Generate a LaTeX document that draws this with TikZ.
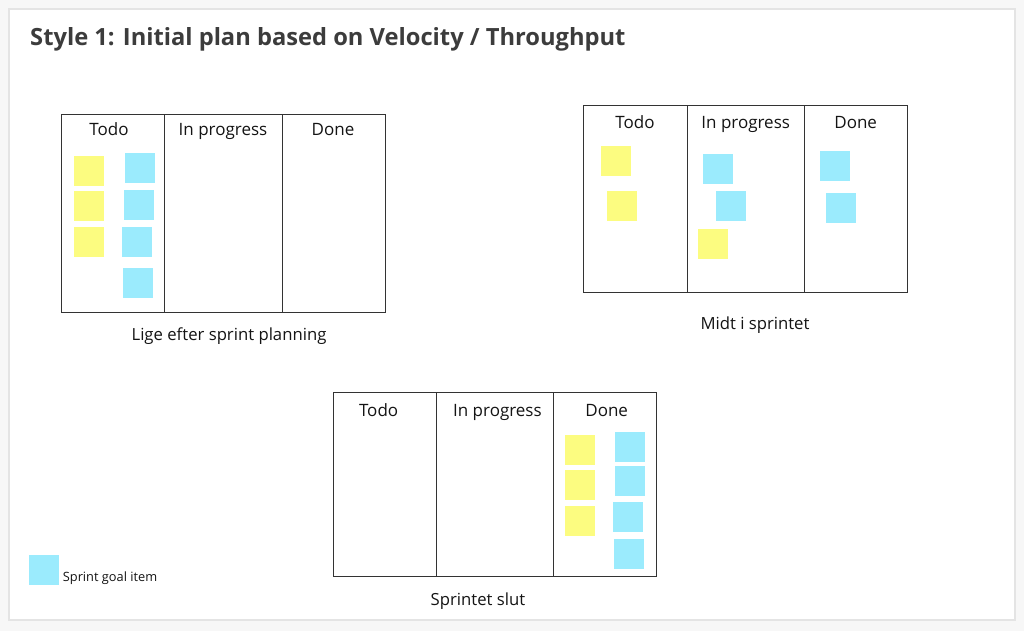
\documentclass[tikz,border=0pt]{standalone}
\usepackage{fontspec}
\setmainfont{Open Sans}
\definecolor{bgc}{RGB}{247,247,247}
\definecolor{panelb}{RGB}{228,228,228}
\definecolor{linec}{RGB}{51,51,51}
\definecolor{yelc}{RGB}{252,252,128}
\definecolor{bluc}{RGB}{155,235,253}
\definecolor{titlec}{RGB}{60,60,60}
\definecolor{txtc}{RGB}{20,20,20}
\tikzset{
  col/.style={draw=linec, line width=1pt, inner sep=0pt, outer sep=0pt, anchor=north west},
  sticky/.style={inner sep=0pt, outer sep=0pt, minimum size=30pt, anchor=north west},
  yel/.style={sticky, fill=yelc},
  blu/.style={sticky, fill=bluc},
  hdr/.style={anchor=base, inner sep=0pt, text=txtc, font=\fontsize{17}{20}\selectfont},
  captxt/.style={anchor=base, inner sep=0pt, text=txtc, font=\fontsize{16.7}{20}\selectfont},
}
\begin{document}
\begin{tikzpicture}[x=1pt,y=-1pt]
\useasboundingbox (0,0) rectangle (1024,631);
\fill[bgc] (0,0) rectangle (1024,631);
\draw[draw=panelb, fill=white, line width=2pt] (9,9) rectangle (1015,620);
\node[anchor=base west, inner sep=0pt, text=titlec, font=\fontsize{23.7}{28}\selectfont\bfseries] (title) at (30,45.7) {Style 1: Initial plan based on Velocity / Throughput};

% Board 1
\node[col, minimum width=103pt, minimum height=197pt] (b1c1) at (61,115) {};
\node[col, minimum width=118pt, minimum height=197pt] (b1c2) at (164,115) {};
\node[col, minimum width=103pt, minimum height=197pt] (b1c3) at (282,115) {};
\node[hdr] (b1h1) at (109,135.5) {Todo};
\node[hdr] (b1h2) at (223,135.5) {In progress};
\node[hdr] (b1h3) at (333,135.5) {Done};
\node[yel] (b1y1) at (74,156) {};
\node[yel] (b1y2) at (74,191) {};
\node[yel] (b1y3) at (74,227) {};
\node[blu] (b1b1) at (124.5,152.7) {};
\node[blu] (b1b2) at (124,190.3) {};
\node[blu] (b1b3) at (122.3,226.7) {};
\node[blu] (b1b4) at (123.3,267.7) {};
\node[captxt] (b1cap) at (229,340.5) {Lige efter sprint planning};

% Board 2
\node[col, minimum width=103.7pt, minimum height=186.7pt] (b2c1) at (583.3,106) {};
\node[col, minimum width=117.7pt, minimum height=186.7pt] (b2c2) at (687,106) {};
\node[col, minimum width=103pt, minimum height=186.7pt] (b2c3) at (804.7,106) {};
\node[hdr] (b2h1) at (635,128.3) {Todo};
\node[hdr] (b2h2) at (745.7,128.3) {In progress};
\node[hdr] (b2h3) at (855.7,128.3) {Done};
\node[yel] (b2y1) at (601.3,146.3) {};
\node[yel] (b2y2) at (607,191) {};
\node[blu] (b2b1) at (702.7,153.7) {};
\node[blu] (b2b2) at (716,190.7) {};
\node[yel] (b2y3) at (698.3,229) {};
\node[blu] (b2b3) at (820,151.3) {};
\node[blu] (b2b4) at (825.7,192.7) {};
\node[captxt] (b2cap) at (755,329.3) {Midt i sprintet};

% Board 3
\node[col, minimum width=103.3pt, minimum height=184pt] (b3c1) at (333,392.7) {};
\node[col, minimum width=117pt, minimum height=184pt] (b3c2) at (436.3,392.7) {};
\node[col, minimum width=103.3pt, minimum height=184pt] (b3c3) at (553.3,392.7) {};
\node[hdr] (b3h1) at (378.6,416) {Todo};
\node[hdr] (b3h2) at (497.4,416) {In progress};
\node[hdr] (b3h3) at (606.7,416) {Done};
\node[yel] (b3y1) at (564.6,435) {};
\node[yel] (b3y2) at (564.6,470.3) {};
\node[yel] (b3y3) at (564.6,505.7) {};
\node[blu] (b3b1) at (615.3,431.7) {};
\node[blu] (b3b2) at (614.5,466) {};
\node[blu] (b3b3) at (613.2,502) {};
\node[blu] (b3b4) at (614,539.3) {};
\node[captxt] (b3cap) at (478,605.3) {Sprintet slut};

% Legend
\node[blu] (leg) at (29.3,555) {};
\node[anchor=base west, inner sep=0pt, text=txtc, font=\fontsize{12.8}{15}\selectfont] (legt) at (62.7,581) {Sprint goal item};
\end{tikzpicture}
\end{document}
